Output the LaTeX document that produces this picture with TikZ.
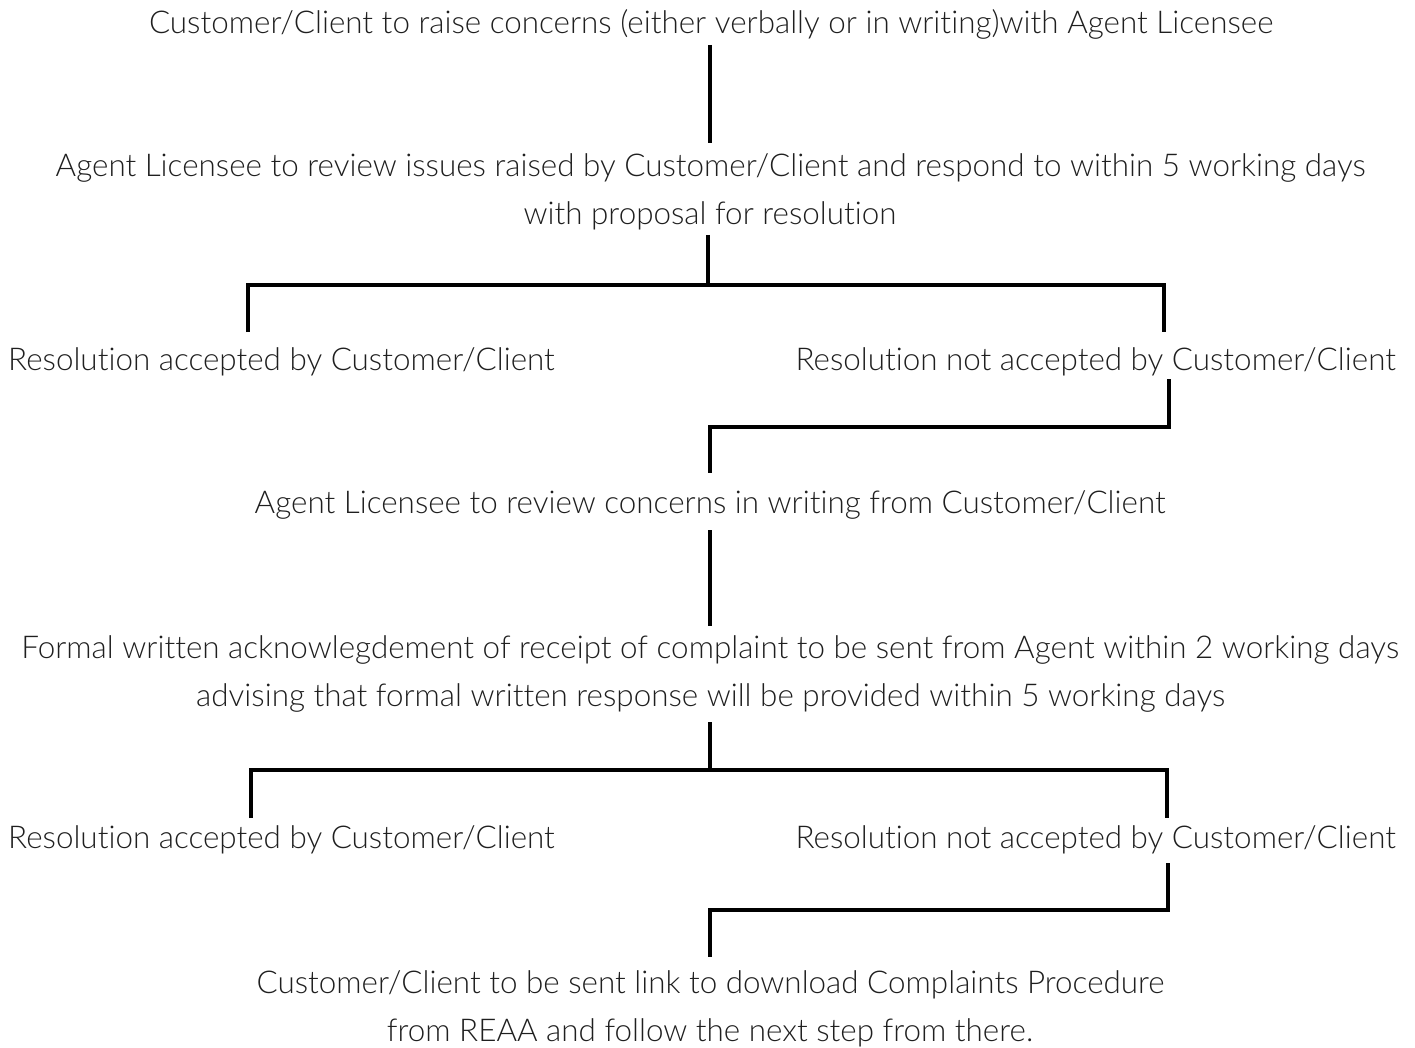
\documentclass[tikz,border=0pt]{standalone}
\usepackage{fontspec}
\IfFontExistsTF{Lato Light}{\setmainfont{Lato Light}[Ligatures=NoCommon]}{\setmainfont{Lato}[Ligatures=NoCommon]}
\begin{document}
\begin{tikzpicture}[x=1pt,y=-1pt,
  txt/.style={inner sep=0pt, anchor=base, font=\fontsize{31.4}{37}\selectfont, text=black!88},
  conn/.style={line width=4.5pt, black, line join=miter}]
\useasboundingbox (0,0) rectangle (1415,1048);
% texts
\node[txt] (t1) at (711,34) {Customer/Client to raise concerns (either verbally or in writing)with Agent Licensee};
\node[txt] (t2a) at (710.5,177) {Agent Licensee to review issues raised by Customer/Client and respond to within 5 working days};
\node[txt] (t2b) at (710,225) {with proposal for resolution};
\node[txt, anchor=base west] (t3l) at (8,370) {Resolution accepted by Customer/Client};
\node[txt, anchor=base east] (t3r) at (1396,370) {Resolution not accepted by Customer/Client};
\node[txt] (t4) at (710,513) {Agent Licensee to review concerns in writing from Customer/Client};
\node[txt] (t5a) at (710,658) {Formal written acknowlegdement of receipt of complaint to be sent from Agent within 2 working days};
\node[txt] (t5b) at (710.5,706) {advising that formal written response will be provided within 5 working days};
\node[txt, anchor=base west] (t6l) at (8,848) {Resolution accepted by Customer/Client};
\node[txt, anchor=base east] (t6r) at (1396,848) {Resolution not accepted by Customer/Client};
\node[txt] (t7a) at (710.5,993) {Customer/Client to be sent link to download Complaints Procedure};
\node[txt] (t7b) at (710,1041) {from REAA and follow the next step from there.};
% connector points
\coordinate (c1s) at (710,45);   \coordinate (c1e) at (710,143);
\coordinate (c2s) at (708,235);  \coordinate (c2j) at (708,285);
\coordinate (c2l) at (248,332);  \coordinate (c2r) at (1164,332);
\coordinate (c3s) at (1169,379); \coordinate (c3e) at (710,473);
\coordinate (c4s) at (710,530);  \coordinate (c4e) at (710,626);
\coordinate (c5s) at (710,722);  \coordinate (c5j) at (710,770);
\coordinate (c5l) at (251,818);  \coordinate (c5r) at (1167,818);
\coordinate (c6s) at (1168,863); \coordinate (c6e) at (710,957);
% connectors
\draw[conn] (c1s) -- (c1e);
\draw[conn] (c2s) -- (c2j);
\draw[conn] (c2l) |- (c2j) -| (c2r);
\draw[conn] (c3s) -- (c3s |- 0,427) -| (c3e);
\draw[conn] (c4s) -- (c4e);
\draw[conn] (c5s) -- (c5j);
\draw[conn] (c5l) |- (c5j) -| (c5r);
\draw[conn] (c6s) -- (c6s |- 0,910) -| (c6e);
\end{tikzpicture}
\end{document}
